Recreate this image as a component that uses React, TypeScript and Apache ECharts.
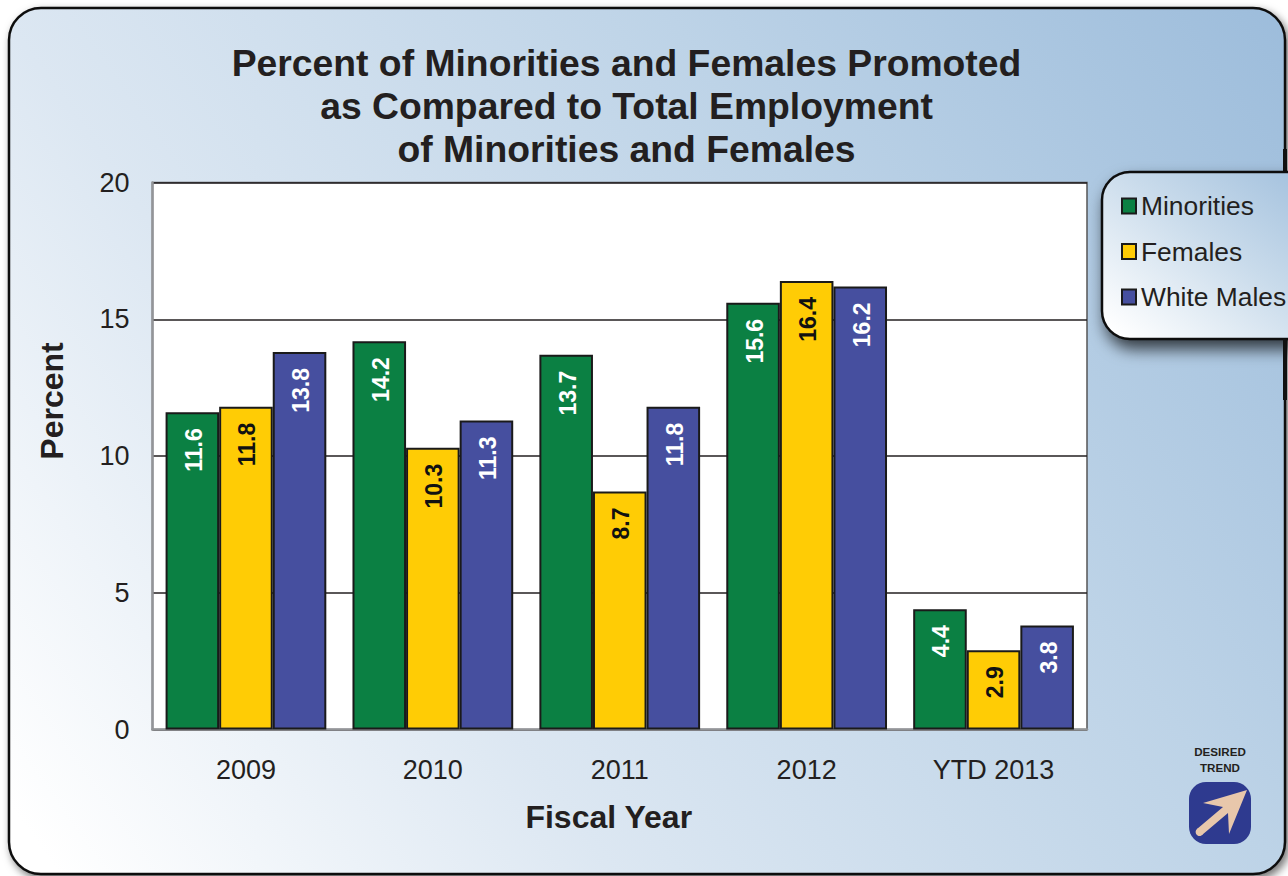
import React, { useEffect, useRef } from "react";
import * as echarts from "echarts";

const categories = ["2009", "2010", "2011", "2012", "YTD 2013"];
const minorities = [11.6, 14.2, 13.7, 15.6, 4.4];
const females = [11.8, 10.3, 8.7, 16.4, 2.9];
const whiteMales = [13.8, 11.3, 11.8, 16.2, 3.8];
const titleText = "Percent of Minorities and Females Promoted\nas Compared to Total Employment\nof Minorities and Females";
const FONT = "'Liberation Sans', Arial, sans-serif";
const INK = "#231f20";

function bar(name: string, data: number[], color: string, labelColor: string) {
  return {
    name,
    type: "bar",
    data,
    barGap: 0,
    barCategoryGap: "14%",
    itemStyle: { color, borderColor: "#1a1a1a", borderWidth: 2 },
    label: {
      show: true,
      position: "insideTop",
      distance: 16,
      rotate: 90,
      align: "right",
      verticalAlign: "middle",
      offset: [0, 1.5],
      color: labelColor,
      fontFamily: FONT,
      fontWeight: "bold",
      fontSize: 23,
      formatter: (p: any) => p.value.toFixed(1),
    },
  };
}

export default function App() {
  const ref = useRef<HTMLDivElement>(null);
  useEffect(() => {
    document.body.style.margin = "0";
    const chart = echarts.init(ref.current!, null, { renderer: "svg" });
    chart.setOption({
      animation: false,
      backgroundColor: "#ffffff",
      title: {
        text: titleText,
        left: 621.5,
        top: 36.5,
        textAlign: "center",
        textStyle: { fontFamily: FONT, fontWeight: "bold", fontSize: 37.3, lineHeight: 43, color: INK },
      },
      legend: {
        orient: "vertical",
        left: 1116,
        top: 188,
        itemWidth: 14,
        itemHeight: 15,
        itemGap: 19.5,
        icon: "rect",
        textStyle: { fontFamily: FONT, fontSize: 26.4, color: INK },
        data: ["Minorities", "Females", "White Males"],
      },
      grid: {
        left: 152.5,
        top: 182.5,
        width: 934.5,
        height: 547,
        show: true,
        backgroundColor: "#ffffff",
        borderColor: "#555557",
        borderWidth: 1.5,
      },
      xAxis: {
        type: "category",
        data: categories,
        name: "Fiscal Year",
        nameLocation: "middle",
        nameGap: 71,
        nameTextStyle: { fontFamily: FONT, fontWeight: "bold", fontSize: 32, color: INK, padding: [0, 22, 0, 0] },
        axisTick: { show: false },
        axisLine: { show: true, lineStyle: { color: "#939598", width: 2.5 } },
        axisLabel: { fontFamily: FONT, fontSize: 27, color: INK, margin: 27 },
      },
      yAxis: {
        type: "value",
        min: 0,
        max: 20,
        interval: 5,
        name: "Percent",
        nameLocation: "middle",
        nameGap: 85,
        nameRotate: 90,
        nameTextStyle: { fontFamily: FONT, fontWeight: "bold", fontSize: 32, color: INK, padding: [0, 0, 0, 110] },
        axisTick: { show: false },
        axisLine: { show: true, lineStyle: { color: "#939598", width: 2.5 } },
        axisLabel: { fontFamily: FONT, fontSize: 27, color: INK, margin: 23 },
        splitLine: { show: true, lineStyle: { color: "#231f20", width: 1.5 } },
      },
      series: [
        bar("Minorities", minorities, "#0b8043", "#ffffff"),
        bar("Females", females, "#ffcc05", "#111111"),
        bar("White Males", whiteMales, "#464f9f", "#ffffff"),
      ],
      graphic: [
        {
          type: "rect",
          z: -10,
          shape: { x: 9, y: 8, width: 1276, height: 866, r: 32 },
          style: {
            fill: new echarts.graphic.LinearGradient(60, 876, 1288, 0, [
              { offset: 0, color: "#ffffff" },
              { offset: 0.3, color: "#dce7f2" },
              { offset: 0.66, color: "#bdd3e7" },
              { offset: 1, color: "#9cbcdb" },
            ], true),
            stroke: "#111111",
            lineWidth: 2.5,
            shadowColor: "rgba(0,0,0,0.55)",
            shadowBlur: 8,
            shadowOffsetX: 3,
            shadowOffsetY: 4,
          },
        },
        {
          type: "line",
          z: -9,
          shape: { x1: 1285, y1: 149, x2: 1285, y2: 171 },
          style: { stroke: "#111111", lineWidth: 4 },
        },
        {
          type: "line",
          z: 2,
          shape: { x1: 1285, y1: 339, x2: 1285, y2: 400 },
          style: { stroke: "#111111", lineWidth: 4 },
        },
        {
          type: "rect",
          z: 1,
          shape: { x: 1102, y: 172, width: 220, height: 167, r: 28 },
          style: {
            fill: new echarts.graphic.LinearGradient(0, 1, 1, 0, [
              { offset: 0.05, color: "#ffffff" },
              { offset: 0.55, color: "#c9dbeb" },
              { offset: 1, color: "#9fbedc" },
            ]),
            stroke: "#111111",
            lineWidth: 2.5,
            shadowColor: "rgba(0,0,0,0.7)",
            shadowBlur: 16,
            shadowOffsetX: 4,
            shadowOffsetY: 9,
          },
        },
        {
          type: "text",
          z: 1,
          x: 1220,
          y: 743,
          style: {
            text: "DESIRED\nTREND",
            fill: INK,
            font: `bold 11.6px ${FONT}`,
            lineHeight: 16,
            align: "center",
          },
        },
        {
          type: "rect",
          z: 1,
          shape: { x: 1189, y: 782, width: 62, height: 62, r: 17 },
          style: { fill: "#2e3a8f" },
        },
        {
          type: "polygon",
          z: 2,
          shape: {
            points: [
              [1247, 790],
              [1229, 834],
              [1228, 813],
              [1202, 835],
              [1197, 829],
              [1223, 807],
              [1203, 803],
            ],
          },
          style: { fill: "#e8c7ab" },
        },
        {
          type: "circle",
          z: 2,
          shape: { cx: 1199.5, cy: 832, r: 3.9 },
          style: { fill: "#e8c7ab" },
        },
      ],
    });
    return () => chart.dispose();
  }, []);
  return <div ref={ref} style={{ position: "absolute", left: 0, top: 0, width: 1288, height: 876 }} />;
}
